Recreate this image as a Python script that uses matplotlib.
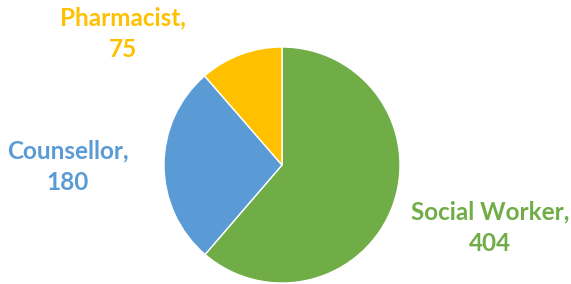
import matplotlib.pyplot as plt

labels = ["Social Worker", "Counsellor", "Pharmacist"]
counts = [404, 180, 75]
colors = ["#70AD47", "#5B9BD5", "#FFC000"]

fig = plt.figure(figsize=(5.71, 2.84), dpi=100)
W, H = 571, 284
cx, cy, r = 282, 165, 118
ax = fig.add_axes([(cx - r) / W, (H - cy - r) / H, 2 * r / W, 2 * r / H])
ax.pie(counts, colors=colors, startangle=90, counterclock=False,
       wedgeprops=dict(edgecolor="white", linewidth=1))
ax.set_xlim(-1, 1)
ax.set_ylim(-1, 1)
ax.set_aspect("equal")

# label positions in pixels (x, y from top)
label_pos = [(490, 228), (68, 167), (123, 34)]
for name, n, c, (x, y) in zip(labels, counts, colors, label_pos):
    fig.text(x / W, 1 - y / H, f"{name},\n{n}", color=c, fontsize=17.5,
             fontweight="bold", family="Lato", ha="center", va="center",
             linespacing=1.45)

fig.savefig("out.png", dpi=100)
